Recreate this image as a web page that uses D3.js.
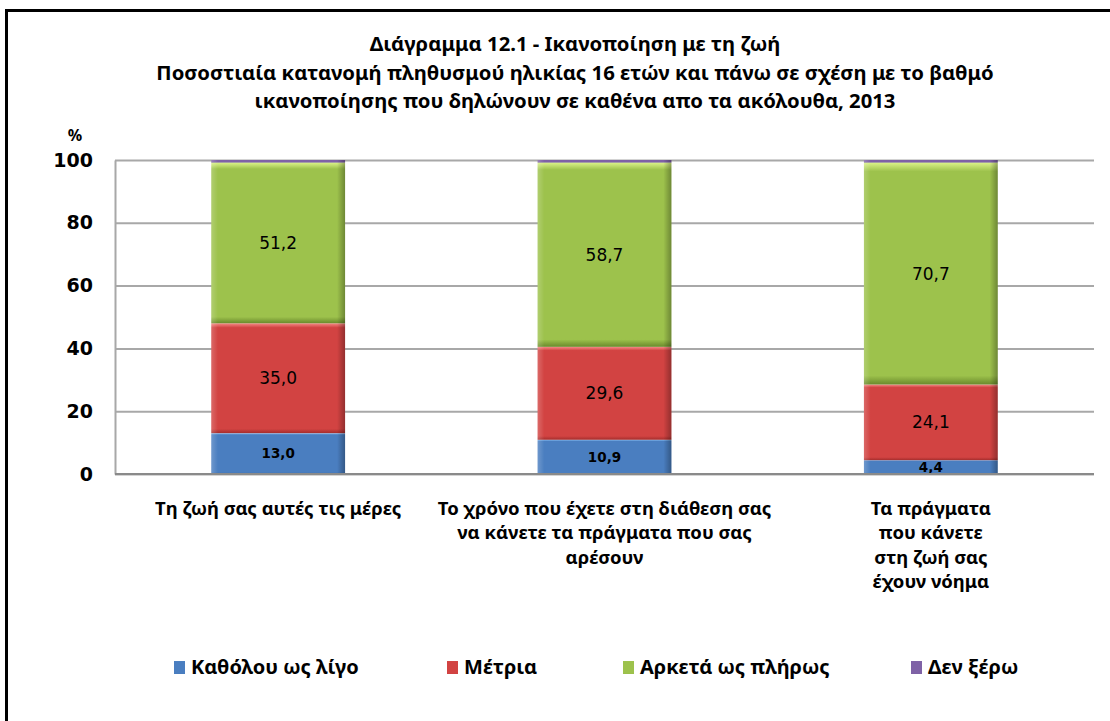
<!DOCTYPE html>
<html>
<head>
<meta charset="utf-8">
<script src="https://cdn.jsdelivr.net/npm/d3@7"></script>
<style>
  body { margin: 0; background: #fff; }
  svg { display: block; }
  .ttl { font-family: "Noto Sans", "Liberation Sans", Arial, sans-serif; font-weight: bold; fill: #000; }
</style>
</head>
<body>
<div class="graph"></div>
<script>
// chart data
const titleLines = [
  "Διάγραμμα 12.1 - Ικανοποίηση  με τη ζωή",
  "Ποσοστιαία κατανομή πληθυσμού ηλικίας 16 ετών και πάνω σε σχέση με το βαθμό",
  "ικανοποίησης  που δηλώνουν σε καθένα απο τα ακόλουθα, 2013"
];
const categories = [
  ["Τη ζωή σας αυτές τις μέρες"],
  ["Το χρόνο που έχετε στη διάθεση σας", "να κάνετε τα πράγματα που σας", "αρέσουν"],
  ["Τα πράγματα", "που κάνετε", "στη ζωή σας", "έχουν νόημα"]
];
const seriesNames = ["Καθόλου ως λίγο", "Μέτρια", "Αρκετά ως πλήρως", "Δεν ξέρω"];
const notAtAll   = [13.0, 10.9, 4.4];
const moderately = [35.0, 29.6, 24.1];
const quiteFully = [51.2, 58.7, 70.7];
const dontKnow   = [0.8, 0.8, 0.8];
const yTicks = [0, 20, 40, 60, 80, 100];

const W = 1110, H = 721;
const margin = {top: 160, right: 16, bottom: 247, left: 115};
const width = W - margin.left - margin.right,
      height = H - margin.top - margin.bottom;

const colors = [
  {light: "#8cc4f8", main: "#4a7ec0", dark: "#2e5a93"},
  {light: "#f58a86", main: "#d24342", dark: "#a42d2c"},
  {light: "#dcf48a", main: "#9dc24c", dark: "#6a8a2c"},
  {light: "#a58cc4", main: "#7f62a6", dark: "#5c4480"}
];

let svg = d3.select(".graph").append("svg")
    .attr("width", W)
    .attr("height", H);

// gradients imitating the bevelled bars
let defs = svg.append("defs");
colors.forEach(function (c, i) {
  let g = defs.append("linearGradient")
      .attr("id", "grad" + i)
      .attr("x1", 0).attr("y1", 0).attr("x2", 0).attr("y2", 1);
  g.append("stop").attr("offset", "0%").attr("stop-color", c.light);
  g.append("stop").attr("offset", "4%").attr("stop-color", c.main);
  g.append("stop").attr("offset", "96%").attr("stop-color", c.main);
  g.append("stop").attr("offset", "100%").attr("stop-color", c.dark);
});
let side = defs.append("linearGradient").attr("id", "side")
    .attr("x1", 0).attr("y1", 0).attr("x2", 1).attr("y2", 0);
side.append("stop").attr("offset", "0%").attr("stop-color", "#fff").attr("stop-opacity", 0.2);
side.append("stop").attr("offset", "5%").attr("stop-color", "#fff").attr("stop-opacity", 0);
side.append("stop").attr("offset", "94%").attr("stop-color", "#000").attr("stop-opacity", 0);
side.append("stop").attr("offset", "100%").attr("stop-color", "#000").attr("stop-opacity", 0.3);

// frame
svg.append("rect")
    .attr("x", 6.5).attr("y", 10.5)
    .attr("width", W + 20).attr("height", H + 20)
    .attr("fill", "none")
    .attr("stroke", "#000")
    .attr("stroke-width", 3);

// title
svg.append("g").selectAll("text")
    .data(titleLines)
    .enter().append("text")
    .attr("class", "ttl")
    .attr("x", 575)
    .attr("y", (d, i) => 51 + i * 28.5)
    .attr("text-anchor", "middle")
    .style("font-size", "20.3px")
    .text(d => d);

let plot = svg.append("g")
    .attr("transform", "translate(" + margin.left + "," + margin.top + ")");

let x = d3.scaleBand()
    .domain(d3.range(categories.length))
    .range([0, width])
    .paddingInner(0.59)
    .paddingOuter(0.295);

let y = d3.scaleLinear()
    .domain([0, 100])
    .range([height, 0]);

// gridlines
plot.append("g")
    .call(d3.axisLeft(y).tickValues(yTicks).tickSize(-width).tickFormat(""))
    .call(g => g.select(".domain").remove())
    .selectAll("line")
    .attr("stroke", "#a8a8a8")
    .attr("stroke-width", 2);

// y axis
plot.append("g")
    .call(d3.axisLeft(y).tickValues(yTicks).tickSize(0).tickPadding(22))
    .call(g => g.select(".domain").attr("stroke", "#a8a8a8").attr("stroke-width", 2))
    .selectAll("text")
    .style("font-family", "'DejaVu Sans', Verdana, sans-serif")
    .style("font-weight", "bold")
    .style("font-size", "19px")
    .attr("fill", "#000");

svg.append("text")
    .attr("class", "ttl")
    .attr("x", 75).attr("y", 141)
    .attr("text-anchor", "middle")
    .style("font-size", "16px")
    .text("%");

// stacked bars
let rows = categories.map((c, i) => ({
  i: i, s0: notAtAll[i], s1: moderately[i], s2: quiteFully[i], s3: dontKnow[i]
}));
let stacked = d3.stack().keys(["s0", "s1", "s2", "s3"])(rows);

let layer = plot.selectAll(".layer")
    .data(stacked)
    .enter().append("g")
    .attr("class", "layer");

layer.selectAll(".bar")
    .data((d, k) => d.map(p => ({p: p, k: k})))
    .enter().append("rect")
    .attr("class", "bar")
    .attr("x", d => x(d.p.data.i))
    .attr("y", d => y(d.p[1]))
    .attr("width", x.bandwidth())
    .attr("height", d => y(d.p[0]) - y(d.p[1]))
    .attr("fill", d => "url(#grad" + d.k + ")");

layer.selectAll(".shade")
    .data(d => d)
    .enter().append("rect")
    .attr("x", p => x(p.data.i))
    .attr("y", p => y(p[1]))
    .attr("width", x.bandwidth())
    .attr("height", p => y(p[0]) - y(p[1]))
    .attr("fill", "url(#side)");

// bottom axis line
plot.append("line")
    .attr("x1", 0).attr("x2", width)
    .attr("y1", y(0)).attr("y2", y(0))
    .attr("stroke", "#8a8a8a")
    .attr("stroke-width", 2);

// value labels (not for "Δεν ξέρω")
layer.filter((d, k) => k < 3).selectAll(".lbl")
    .data((d, k) => d.map(p => ({p: p, k: k})))
    .enter().append("text")
    .attr("x", d => x(d.p.data.i) + x.bandwidth() / 2)
    .attr("y", d => y((d.p[0] + d.p[1]) / 2))
    .attr("dy", "0.36em")
    .attr("text-anchor", "middle")
    .style("font-family", "'DejaVu Sans', Verdana, sans-serif")
    .style("font-weight", d => d.k === 0 ? "bold" : "normal")
    .style("font-size", d => d.k === 0 ? "13.5px" : "17px")
    .text(d => d3.format(".1f")(d.p[1] - d.p[0]).replace(".", ","));

// category labels
let cat = plot.selectAll(".cat")
    .data(categories)
    .enter().append("text")
    .attr("class", "ttl")
    .attr("text-anchor", "middle")
    .style("font-size", "18.5px")
    .attr("transform", (d, i) => "translate(" + (x(i) + x.bandwidth() / 2) + "," + (height + 41) + ")");
cat.selectAll("tspan")
    .data(d => d)
    .enter().append("tspan")
    .attr("x", 0)
    .attr("y", (d, j) => j * 24.3)
    .text(d => d);

// legend
let legendX = [174, 447, 623, 911];
let leg = svg.selectAll(".leg")
    .data(seriesNames)
    .enter().append("g")
    .attr("transform", (d, i) => "translate(" + legendX[i] + ",667)");
leg.append("rect")
    .attr("x", 0).attr("y", -6)
    .attr("width", 11).attr("height", 13)
    .attr("fill", (d, i) => "url(#grad" + i + ")");
leg.append("text")
    .attr("class", "ttl")
    .attr("x", 17)
    .attr("dy", "0.36em")
    .style("font-size", "20px")
    .text(d => d);
</script>
</body>
</html>
